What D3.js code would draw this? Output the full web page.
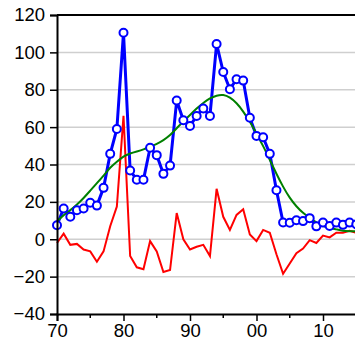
<!DOCTYPE html>
<html><head><meta charset="utf-8">
<script src="https://cdn.jsdelivr.net/npm/d3@7"></script>
<style>html,body{margin:0;padding:0;background:#fff;overflow:hidden}svg{display:block}</style>
</head><body><svg id="c" width="355" height="349"></svg>
<script>
const years = d3.range(70, 116);
const observed = [7.5,16.5,12,15.5,16.5,19.5,18,27.5,45.7,59,110.5,36.8,31.8,31.8,49,45,35,39.4,74.2,63.7,60.6,66,70,66,104.5,89.5,80.3,85.6,84.9,65,55.3,54.6,45.7,26.2,9,8.8,10.2,9.7,11.3,6.9,8.9,7.1,8.9,7.7,8.9,8];
const trend = [9.5,13,15.5,18.5,22,26,30,34,38.5,41.5,44.5,46,47,48,49.5,51,53,55.5,59.5,63,66.5,70,73,75.5,77,77.5,76,73,68.5,63,56.5,50,42.5,35,28,22,17.5,14,11.5,9,7,6,5.3,4.5,4.3,4.2];
const residual = [-2,3,-3,-2.5,-5.5,-6.5,-12,-6.5,7,17.5,66,-9,-15,-16,-1,-6.5,-17.5,-16.5,14,0,-5.5,-4,-3,-9,27,12,5,13,16,2.5,-1,5,3.5,-8,-18.5,-13,-7.5,-5,-0.5,-2,2,1,3.5,3.5,4.5,3.5];
const xTicks = [70,80,90,100,110];
const xMinor = [75,85,95,105,115];
const yTicks = [-40,-20,0,20,40,60,80,100,120];

const svg = d3.select('#c');
const L = 57, R = 356.25, T = 15, B = 314;
const x = d3.scaleLinear().domain([70,115]).range([L,R]);
const y = d3.scaleLinear().domain([-40,120]).range([B,T]);
const font = '"Liberation Sans", Arial, sans-serif';

svg.append('g').selectAll('line').data(yTicks.filter(v=>v>-40&&v<120)).join('line')
  .attr('x1',L).attr('x2',R).attr('y1',d=>y(d)).attr('y2',d=>y(d))
  .attr('stroke','#cfcfcf').attr('stroke-width',1.5);

svg.append('line').attr('x1',L).attr('x2',R+2).attr('y1',T).attr('y2',T).attr('stroke','#000').attr('stroke-width',2);

const line = (arr, curve) => d3.line().x((d,i)=>x(years[i])).y(d=>y(d)).curve(curve)(arr);

svg.append('path').attr('d', line(residual, d3.curveLinear)).attr('fill','none').attr('stroke','#ff0000').attr('stroke-width',2);
svg.append('path').attr('d', line(observed, d3.curveLinear)).attr('fill','none').attr('stroke','#0000ff').attr('stroke-width',3).attr('stroke-linejoin','round');
svg.append('path').attr('d', line(trend, d3.curveBasis)).attr('fill','none').attr('stroke','#008000').attr('stroke-width',2);
svg.append('g').selectAll('circle').data(observed).join('circle')
  .attr('cx',(d,i)=>x(years[i])).attr('cy',d=>y(d)).attr('r',4)
  .attr('fill','#fff').attr('stroke','#0000ff').attr('stroke-width',2);

const ya = svg.append('g').attr('transform',`translate(${L},0)`)
  .call(d3.axisLeft(y).tickValues(yTicks).tickSize(7).tickPadding(5).tickFormat(d3.format('d')));
ya.select('.domain').attr('stroke','#000').attr('stroke-width',2);
ya.selectAll('.tick line').attr('stroke','#000').attr('stroke-width',1.5);
ya.selectAll('text').attr('font-family',font).attr('font-size',18.5).attr('fill','#000');

const xa = svg.append('g').attr('transform',`translate(0,${B})`)
  .call(d3.axisBottom(x).tickValues(xTicks).tickSize(7).tickPadding(3).tickFormat(d=>String(d%100).padStart(2,'0')));
xa.select('.domain').attr('stroke','#000').attr('stroke-width',2);
xa.selectAll('.tick line').attr('stroke','#000').attr('stroke-width',1.5);
xa.selectAll('text').attr('font-family',font).attr('font-size',18.5).attr('fill','#000');
svg.append('g').selectAll('line').data(xMinor).join('line')
  .attr('x1',d=>x(d)).attr('x2',d=>x(d)).attr('y1',B).attr('y2',B+4)
  .attr('stroke','#000').attr('stroke-width',1.5);
</script></body></html>
